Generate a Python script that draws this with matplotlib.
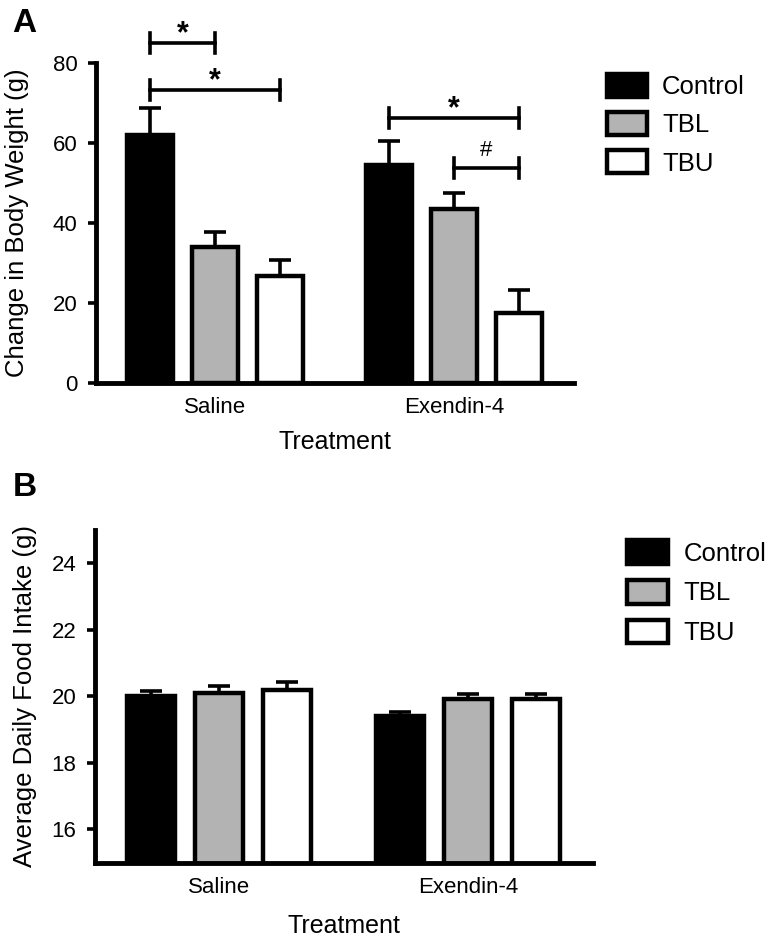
import numpy as np
import matplotlib.pyplot as plt
from matplotlib.patches import Patch

plt.rcParams['font.family'] = ['Liberation Sans', 'DejaVu Sans']

# data
treatments = ['Saline', 'Exendin-4']
groups = ['Control', 'TBL', 'TBU']
colors = ['black', '#b3b3b3', 'white']

weight_mean = {
    'Control': [62.0, 54.5],
    'TBL': [34.0, 43.5],
    'TBU': [26.8, 17.6],
}
weight_sem = {
    'Control': [6.7, 6.0],
    'TBL': [3.7, 3.9],
    'TBU': [3.9, 5.7],
}

food_mean = {
    'Control': [20.02, 19.40],
    'TBL': [20.11, 19.93],
    'TBU': [20.18, 19.93],
}
food_sem = {
    'Control': [0.15, 0.13],
    'TBL': [0.20, 0.14],
    'TBU': [0.24, 0.14],
}

# significance brackets: (treatment index, bar a, bar b, level, mark)
weight_sig = [
    (0, 0, 1, 85.0, '*'),
    (0, 0, 2, 73.3, '*'),
    (1, 0, 2, 66.2, '*'),
    (1, 1, 2, 53.7, '#'),
]

offsets = [-0.272, 0.0, 0.272]
bar_w = 0.193
xg = np.arange(len(treatments))


def draw_panel(ax, means, sems, ylim, yticks, ylabel, ylpad, xlpad):
    for i, g in enumerate(groups):
        xs = xg + offsets[i]
        ax.errorbar(xs, means[g], yerr=[np.zeros(len(xs)), sems[g]], fmt='none',
                    ecolor='black', elinewidth=2.6, capsize=8, capthick=2.6, zorder=1)
        ax.bar(xs, means[g], width=bar_w, color=colors[i], edgecolor='black',
               linewidth=3.2, zorder=2)
    ax.set_xlim(-0.5, 1.5)
    ax.set_ylim(*ylim)
    ax.set_yticks(yticks)
    ax.set_xticks(xg)
    ax.set_xticklabels(treatments, fontsize=16)
    ax.tick_params(axis='x', length=0, pad=10)
    ax.tick_params(axis='y', length=6, width=2.6, labelsize=16, pad=7)
    for s in ['top', 'right']:
        ax.spines[s].set_visible(False)
    for s in ['left', 'bottom']:
        ax.spines[s].set_linewidth(3.5)
    ax.set_xlabel('Treatment', fontsize=18, labelpad=xlpad)
    ax.set_ylabel(ylabel, fontsize=18.5, labelpad=ylpad)


fig = plt.figure(figsize=(7.73, 9.38), dpi=100)
axA = fig.add_axes([95.5 / 773, 1 - 383 / 938, 478 / 773, 320 / 938])
axB = fig.add_axes([94.5 / 773, 1 - 862.7 / 938, 498 / 773, 333 / 938])

draw_panel(axA, weight_mean, weight_sem, (0, 80), [0, 20, 40, 60, 80],
           'Change in Body Weight (g)', 17, 9)
draw_panel(axB, food_mean, food_sem, (15, 25), [16, 18, 20, 22, 24],
           'Average Daily Food Intake (g)', 10.5, 12)

fig.text(12 / 773, 1 - 24 / 938, 'A', fontsize=24, fontweight='bold',
         ha='left', va='center')
fig.text(13 / 773, 1 - 487 / 938, 'B', fontsize=24, fontweight='bold',
         ha='left', va='center')

# brackets on panel A
tick_h = 2.5
for t, a, b, lev, mark in weight_sig:
    x1 = xg[t] + offsets[a]
    x2 = xg[t] + offsets[b]
    axA.plot([x1, x2], [lev, lev], color='black', lw=2.6, clip_on=False)
    axA.plot([x1, x1], [lev - tick_h, lev + tick_h], color='black', lw=2.6, clip_on=False)
    axA.plot([x2, x2], [lev - tick_h, lev + tick_h], color='black', lw=2.6, clip_on=False)
    if mark == '*':
        axA.text((x1 + x2) / 2, lev - 1.5, mark, ha='center', va='bottom',
                 fontsize=22, fontweight='bold', clip_on=False)
    else:
        axA.text((x1 + x2) / 2, lev + 1.8, mark, ha='center', va='bottom',
                 fontsize=16, clip_on=False)

handles = [Patch(facecolor=c, edgecolor='black', linewidth=3.2) for c in colors]
axA.legend(handles, groups, loc='upper left', bbox_to_anchor=(607 / 773, 1 - 74 / 938),
           bbox_transform=fig.transFigure, frameon=False, fontsize=18.5,
           handlelength=1.55, handleheight=1.0, handletextpad=0.6,
           labelspacing=0.5, borderpad=0, borderaxespad=0)
axB.legend(handles, groups, loc='upper left', bbox_to_anchor=(627 / 773, 1 - 540 / 938),
           bbox_transform=fig.transFigure, frameon=False, fontsize=18.5,
           handlelength=1.6, handleheight=1.05, handletextpad=0.6,
           labelspacing=0.55, borderpad=0, borderaxespad=0)

fig.savefig('out.png', dpi=100)
